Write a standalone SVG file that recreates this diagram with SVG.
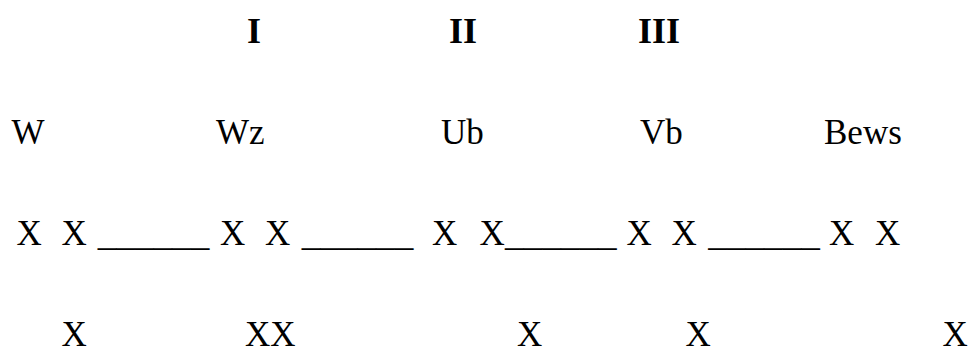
<svg xmlns="http://www.w3.org/2000/svg" width="974" height="349" viewBox="0 0 974 349">
<style>
text { font-family: "Liberation Serif", "Times New Roman", serif; font-size: 35px; fill: #000; }
.h { font-weight: bold; font-size: 36px; }
</style>
<rect width="974" height="349" fill="#fff"/>
<g id="headers">
<text class="h" x="247" y="43">I</text>
<text class="h" x="449" y="43">II</text>
<text class="h" x="638" y="43">III</text>
</g>
<g id="labels">
<text x="11.5" y="144">W</text>
<text x="216" y="144">Wz</text>
<text x="441" y="144">Ub</text>
<text x="640" y="144">Vb</text>
<text x="824" y="144">Bews</text>
</g>
<g id="chain">
<text x="16.5" y="245">X</text>
<text x="61.5" y="245">X</text>
<text x="97.7" y="245" textLength="111.6" lengthAdjust="spacingAndGlyphs">______</text>
<text x="220" y="245">X</text>
<text x="265" y="245">X</text>
<text x="301.7" y="245" textLength="111.6" lengthAdjust="spacingAndGlyphs">______</text>
<text x="432" y="245">X</text>
<text x="479.5" y="245">X</text>
<text x="505" y="245" textLength="111.6" lengthAdjust="spacingAndGlyphs">______</text>
<text x="626.5" y="245">X</text>
<text x="671.5" y="245">X</text>
<text x="708.3" y="245" textLength="111.6" lengthAdjust="spacingAndGlyphs">______</text>
<text x="829" y="245">X</text>
<text x="875" y="245">X</text>
</g>
<g id="bottom">
<text x="61.5" y="346">X</text>
<text x="245" y="346">XX</text>
<text x="517" y="346">X</text>
<text x="685.5" y="346">X</text>
<text x="942.5" y="346">X</text>
</g>
</svg>
